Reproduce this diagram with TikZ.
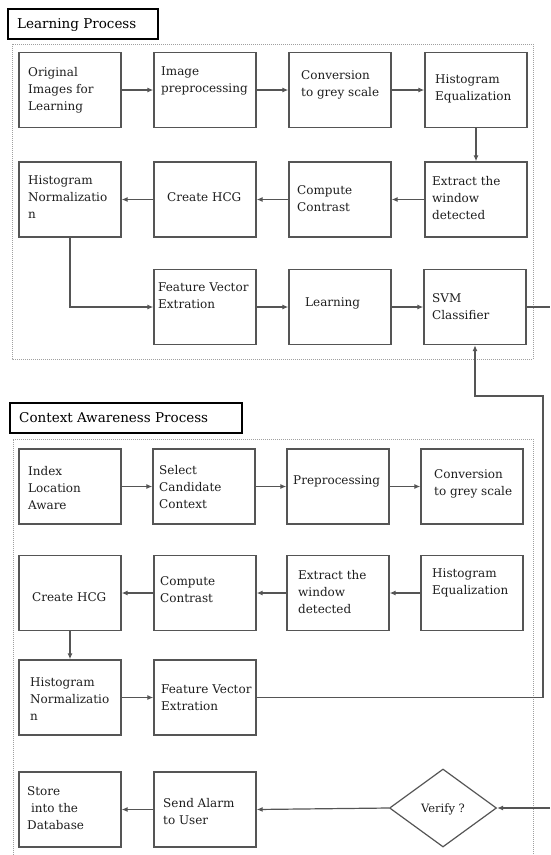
\documentclass[tikz,border=0pt]{standalone}
\usepackage{fontspec}
\setmainfont{DejaVu Serif}
\usetikzlibrary{arrows.meta,shapes.geometric}
\definecolor{boxgray}{HTML}{555555}
\definecolor{txtgray}{HTML}{1E1E1E}
\definecolor{dotgray}{HTML}{A0A0A0}
\tikzset{
  box/.style={draw=boxgray, line width=1.3pt, minimum width=102pt, minimum height=75pt, inner sep=0pt},
  lbl/.style={anchor=west, align=left, text=txtgray, font=\fontsize{12pt}{17pt}\selectfont, inner sep=0pt},
  ttl/.style={draw=black, line width=1.4pt, inner sep=0pt},
  ttltxt/.style={anchor=west, text=black, font=\fontsize{13.5pt}{16pt}\selectfont, inner sep=0pt},
  arr/.style={draw=boxgray, line width=1.2pt, -{Latex[length=6pt,width=5pt]}},
  ln/.style={draw=boxgray, line width=1.2pt},
  frame/.style={draw=dotgray, line width=1pt, dash pattern=on 1pt off 1pt},
  dia/.style={diamond, draw=boxgray, line width=1.2pt, minimum width=107pt, minimum height=78pt, inner sep=0pt, aspect=1.37}
}
\begin{document}
\begin{tikzpicture}[x=1pt,y=-1pt]
\useasboundingbox (0,0) rectangle (550,855);
% frames
\draw[frame] (12,44) rectangle (533,359);
\draw[frame] (13,855) -- (13,439) -- (533,439) -- (533,855);
% titles
\node[ttl, minimum width=150pt, minimum height=30pt] (T1) at (83,24) {};
\node[ttltxt] (T1t) at (17,25) {Learning Process};
\node[ttl, minimum width=232pt, minimum height=30pt] (T2) at (126,418) {};
\node[ttltxt] (T2t) at (19,418) {Context Awareness Process};

% Learning process boxes
\node[box] (L1) at (70,90) {};
\node[box] (L2) at (205,90) {};
\node[box] (L3) at (340,90) {};
\node[box] (L4) at (476,90) {};
\node[box] (L5) at (476,199.5) {};
\node[box] (L6) at (340,199.5) {};
\node[box] (L7) at (205,199.5) {};
\node[box] (L8) at (70,199.5) {};
\node[box] (L9) at (205,307) {};
\node[box] (L10) at (340,307) {};
\node[box] (L11) at (475,307) {};

\node[lbl] (l1) at (28,90) {Original\\Images for\\Learning};
\node[lbl] (l2) at (161,81) {Image\\preprocessing};
\node[lbl] (l3) at (301,85) {Conversion\\to grey scale};
\node[lbl] (l4) at (435,88.5) {Histogram\\Equalization};
\node[lbl] (l5) at (432,198) {Extract the\\window\\detected};
\node[lbl] (l6) at (297,199) {Compute\\Contrast};
\node[lbl] (l7) at (167,197) {Create HCG};
\node[lbl] (l8) at (28,197) {Histogram\\Normalizatio\\n};
\node[lbl] (l9) at (158,296) {Feature Vector\\Extration};
\node[lbl] (l10) at (305,303) {Learning};
\node[lbl] (l11) at (432,307) {SVM\\Classifier};

\draw[arr] (L1) -- (L2);
\draw[arr] (L2) -- (L3);
\draw[arr] (L3) -- (L4);
\draw[arr] (L4) -- (L5);
\draw[arr] (L5) -- (L6);
\draw[arr] (L6) -- (L7);
\draw[arr] (L7) -- (L8);
\draw[arr] (L8.south) |- (L9.west);
\draw[arr] (L9) -- (L10);
\draw[arr] (L10) -- (L11);
\coordinate (Sout) at (550,307);
\draw[ln] (L11.east) -- (Sout);

% Context awareness boxes
\node[box] (C1) at (70,486.5) {};
\node[box] (C2) at (204,486.5) {};
\node[box] (C3) at (338,486.5) {};
\node[box] (C4) at (472,486.5) {};
\node[box] (C5) at (472,593) {};
\node[box] (C6) at (338,593) {};
\node[box] (C7) at (205,593) {};
\node[box] (C8) at (70,593) {};
\node[box] (C9) at (70,697.5) {};
\node[box] (C10) at (205,697.5) {};
\node[box] (C11) at (70,809.5) {};
\node[box] (C12) at (205,809.5) {};
\node[dia] (V) at (443,808) {};

\node[lbl] (c1) at (28,488) {Index\\Location\\Aware};
\node[lbl] (c2) at (159,487) {Select\\Candidate\\Context};
\node[lbl] (c3) at (293,481) {Preprocessing};
\node[lbl] (c4) at (434,483.5) {Conversion\\to grey scale};
\node[lbl] (c5) at (432,582.5) {Histogram\\Equalization};
\node[lbl] (c6) at (298,592) {Extract the\\window\\detected};
\node[lbl] (c7) at (160,590) {Compute\\Contrast};
\node[lbl] (c8) at (32,597) {Create HCG};
\node[lbl] (c9) at (30,699) {Histogram\\Normalizatio\\n};
\node[lbl] (c10) at (161,697.5) {Feature Vector\\Extration};
\node[lbl] (c11) at (27,808) {Store\\\ into the\\Database};
\node[lbl] (c12) at (163,811.5) {Send Alarm\\to User};
\node[lbl, anchor=center, font=\fontsize{11.5pt}{14pt}\selectfont] (vt) at (443,809) {Verify ?};

\draw[arr] (C1) -- (C2);
\draw[arr] (C2) -- (C3);
\draw[arr] (C3) -- (C4);
\draw[arr] (C5) -- (C6);
\draw[arr] (C6) -- (C7);
\draw[arr] (C7) -- (C8);
\draw[arr] (C8) -- (C9);
\draw[arr] (C9) -- (C10);
\coordinate (R1) at (543,396);
\draw[arr] (C10.east) -| (R1) -| (L11.south);
\coordinate (Vin) at (550,808);
\draw[arr] (Vin) -- (V.east);
\draw[arr] (V.west) -- (C12.east);
\draw[arr] (C12) -- (C11);
\end{tikzpicture}
\end{document}
